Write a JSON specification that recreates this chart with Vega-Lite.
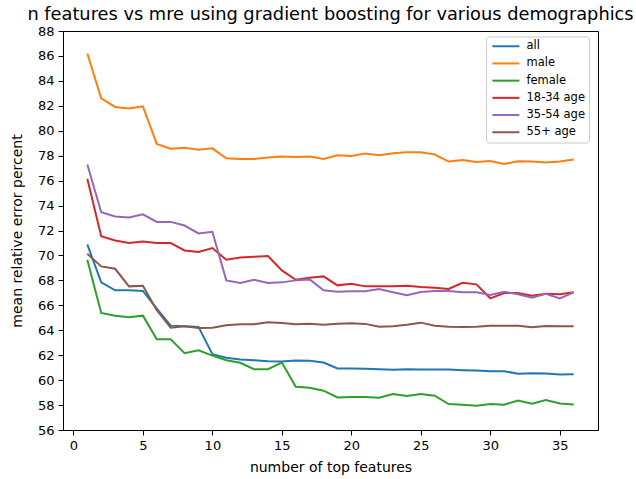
{
  "$schema": "https://vega.github.io/schema/vega-lite/v6.json",
  "width": 535,
  "height": 399,
  "autosize": {"type": "none"},
  "padding": {"left": 63, "top": 31, "right": 38, "bottom": 49},
  "background": "white",
  "title": {
    "text": "n features vs mre using gradient boosting for various demographics",
    "font": "DejaVu Sans",
    "fontSize": 17.8,
    "fontWeight": "normal",
    "color": "black",
    "anchor": "middle",
    "frame": "group",
    "offset": 1.5
  },
  "config": {
    "view": {"stroke": "black", "strokeWidth": 1},
    "axis": {
      "grid": false,
      "domainColor": "black",
      "domainWidth": 1,
      "tickColor": "black",
      "tickSize": 5,
      "tickWidth": 1,
      "labelColor": "black",
      "labelFont": "DejaVu Sans",
      "labelFontSize": 13,
      "labelPadding": 4,
      "titleFont": "DejaVu Sans",
      "titleFontSize": 14,
      "titleFontWeight": "normal",
      "titleColor": "black"
    }
  },
  "data": {
    "values": [
      {"n":1,"series":"all","mre":70.88},{"n":2,"series":"all","mre":67.84},{"n":3,"series":"all","mre":67.2},{"n":4,"series":"all","mre":67.2},{"n":5,"series":"all","mre":67.15},{"n":6,"series":"all","mre":65.73},{"n":7,"series":"all","mre":64.37},{"n":8,"series":"all","mre":64.32},{"n":9,"series":"all","mre":64.27},{"n":10,"series":"all","mre":62.08},{"n":11,"series":"all","mre":61.79},{"n":12,"series":"all","mre":61.65},{"n":13,"series":"all","mre":61.6},{"n":14,"series":"all","mre":61.52},{"n":15,"series":"all","mre":61.49},{"n":16,"series":"all","mre":61.57},{"n":17,"series":"all","mre":61.55},{"n":18,"series":"all","mre":61.41},{"n":19,"series":"all","mre":60.93},{"n":20,"series":"all","mre":60.93},{"n":21,"series":"all","mre":60.91},{"n":22,"series":"all","mre":60.88},{"n":23,"series":"all","mre":60.83},{"n":24,"series":"all","mre":60.88},{"n":25,"series":"all","mre":60.85},{"n":26,"series":"all","mre":60.85},{"n":27,"series":"all","mre":60.85},{"n":28,"series":"all","mre":60.8},{"n":29,"series":"all","mre":60.77},{"n":30,"series":"all","mre":60.72},{"n":31,"series":"all","mre":60.72},{"n":32,"series":"all","mre":60.51},{"n":33,"series":"all","mre":60.56},{"n":34,"series":"all","mre":60.53},{"n":35,"series":"all","mre":60.45},{"n":36,"series":"all","mre":60.48},
      {"n":1,"series":"male","mre":86.19},{"n":2,"series":"male","mre":82.6},{"n":3,"series":"male","mre":81.91},{"n":4,"series":"male","mre":81.78},{"n":5,"series":"male","mre":81.96},{"n":6,"series":"male","mre":78.94},{"n":7,"series":"male","mre":78.56},{"n":8,"series":"male","mre":78.64},{"n":9,"series":"male","mre":78.48},{"n":10,"series":"male","mre":78.59},{"n":11,"series":"male","mre":77.79},{"n":12,"series":"male","mre":77.74},{"n":13,"series":"male","mre":77.74},{"n":14,"series":"male","mre":77.85},{"n":15,"series":"male","mre":77.93},{"n":16,"series":"male","mre":77.9},{"n":17,"series":"male","mre":77.93},{"n":18,"series":"male","mre":77.74},{"n":19,"series":"male","mre":78.03},{"n":20,"series":"male","mre":77.98},{"n":21,"series":"male","mre":78.17},{"n":22,"series":"male","mre":78.03},{"n":23,"series":"male","mre":78.19},{"n":24,"series":"male","mre":78.27},{"n":25,"series":"male","mre":78.27},{"n":26,"series":"male","mre":78.09},{"n":27,"series":"male","mre":77.53},{"n":28,"series":"male","mre":77.66},{"n":29,"series":"male","mre":77.5},{"n":30,"series":"male","mre":77.58},{"n":31,"series":"male","mre":77.34},{"n":32,"series":"male","mre":77.55},{"n":33,"series":"male","mre":77.53},{"n":34,"series":"male","mre":77.45},{"n":35,"series":"male","mre":77.53},{"n":36,"series":"male","mre":77.69},
      {"n":1,"series":"female","mre":69.65},{"n":2,"series":"female","mre":65.39},{"n":3,"series":"female","mre":65.17},{"n":4,"series":"female","mre":65.04},{"n":5,"series":"female","mre":65.17},{"n":6,"series":"female","mre":63.28},{"n":7,"series":"female","mre":63.28},{"n":8,"series":"female","mre":62.16},{"n":9,"series":"female","mre":62.4},{"n":10,"series":"female","mre":61.97},{"n":11,"series":"female","mre":61.6},{"n":12,"series":"female","mre":61.39},{"n":13,"series":"female","mre":60.88},{"n":14,"series":"female","mre":60.88},{"n":15,"series":"female","mre":61.41},{"n":16,"series":"female","mre":59.47},{"n":17,"series":"female","mre":59.39},{"n":18,"series":"female","mre":59.15},{"n":19,"series":"female","mre":58.61},{"n":20,"series":"female","mre":58.64},{"n":21,"series":"female","mre":58.64},{"n":22,"series":"female","mre":58.59},{"n":23,"series":"female","mre":58.88},{"n":24,"series":"female","mre":58.72},{"n":25,"series":"female","mre":58.88},{"n":26,"series":"female","mre":58.75},{"n":27,"series":"female","mre":58.08},{"n":28,"series":"female","mre":58.03},{"n":29,"series":"female","mre":57.95},{"n":30,"series":"female","mre":58.08},{"n":31,"series":"female","mre":58.03},{"n":32,"series":"female","mre":58.37},{"n":33,"series":"female","mre":58.11},{"n":34,"series":"female","mre":58.4},{"n":35,"series":"female","mre":58.13},{"n":36,"series":"female","mre":58.05},
      {"n":1,"series":"18-34 age","mre":76.15},{"n":2,"series":"18-34 age","mre":71.55},{"n":3,"series":"18-34 age","mre":71.2},{"n":4,"series":"18-34 age","mre":70.99},{"n":5,"series":"18-34 age","mre":71.12},{"n":6,"series":"18-34 age","mre":70.99},{"n":7,"series":"18-34 age","mre":70.99},{"n":8,"series":"18-34 age","mre":70.4},{"n":9,"series":"18-34 age","mre":70.27},{"n":10,"series":"18-34 age","mre":70.59},{"n":11,"series":"18-34 age","mre":69.65},{"n":12,"series":"18-34 age","mre":69.84},{"n":13,"series":"18-34 age","mre":69.89},{"n":14,"series":"18-34 age","mre":69.95},{"n":15,"series":"18-34 age","mre":68.8},{"n":16,"series":"18-34 age","mre":68.05},{"n":17,"series":"18-34 age","mre":68.21},{"n":18,"series":"18-34 age","mre":68.32},{"n":19,"series":"18-34 age","mre":67.6},{"n":20,"series":"18-34 age","mre":67.73},{"n":21,"series":"18-34 age","mre":67.52},{"n":22,"series":"18-34 age","mre":67.52},{"n":23,"series":"18-34 age","mre":67.52},{"n":24,"series":"18-34 age","mre":67.57},{"n":25,"series":"18-34 age","mre":67.47},{"n":26,"series":"18-34 age","mre":67.41},{"n":27,"series":"18-34 age","mre":67.31},{"n":28,"series":"18-34 age","mre":67.81},{"n":29,"series":"18-34 age","mre":67.68},{"n":30,"series":"18-34 age","mre":66.56},{"n":31,"series":"18-34 age","mre":66.99},{"n":32,"series":"18-34 age","mre":66.99},{"n":33,"series":"18-34 age","mre":66.77},{"n":34,"series":"18-34 age","mre":66.93},{"n":35,"series":"18-34 age","mre":66.88},{"n":36,"series":"18-34 age","mre":67.04},
      {"n":1,"series":"35-54 age","mre":77.29},{"n":2,"series":"35-54 age","mre":73.46},{"n":3,"series":"35-54 age","mre":73.12},{"n":4,"series":"35-54 age","mre":73.04},{"n":5,"series":"35-54 age","mre":73.3},{"n":6,"series":"35-54 age","mre":72.69},{"n":7,"series":"35-54 age","mre":72.69},{"n":8,"series":"35-54 age","mre":72.4},{"n":9,"series":"35-54 age","mre":71.76},{"n":10,"series":"35-54 age","mre":71.9},{"n":11,"series":"35-54 age","mre":68.0},{"n":12,"series":"35-54 age","mre":67.79},{"n":13,"series":"35-54 age","mre":68.05},{"n":14,"series":"35-54 age","mre":67.79},{"n":15,"series":"35-54 age","mre":67.84},{"n":16,"series":"35-54 age","mre":68.0},{"n":17,"series":"35-54 age","mre":68.08},{"n":18,"series":"35-54 age","mre":67.2},{"n":19,"series":"35-54 age","mre":67.09},{"n":20,"series":"35-54 age","mre":67.12},{"n":21,"series":"35-54 age","mre":67.12},{"n":22,"series":"35-54 age","mre":67.31},{"n":23,"series":"35-54 age","mre":67.04},{"n":24,"series":"35-54 age","mre":66.8},{"n":25,"series":"35-54 age","mre":67.07},{"n":26,"series":"35-54 age","mre":67.15},{"n":27,"series":"35-54 age","mre":67.15},{"n":28,"series":"35-54 age","mre":67.04},{"n":29,"series":"35-54 age","mre":67.04},{"n":30,"series":"35-54 age","mre":66.83},{"n":31,"series":"35-54 age","mre":67.09},{"n":32,"series":"35-54 age","mre":66.88},{"n":33,"series":"35-54 age","mre":66.61},{"n":34,"series":"35-54 age","mre":66.93},{"n":35,"series":"35-54 age","mre":66.56},{"n":36,"series":"35-54 age","mre":67.04},
      {"n":1,"series":"55+ age","mre":70.13},{"n":2,"series":"55+ age","mre":69.12},{"n":3,"series":"55+ age","mre":68.93},{"n":4,"series":"55+ age","mre":67.52},{"n":5,"series":"55+ age","mre":67.57},{"n":6,"series":"55+ age","mre":65.6},{"n":7,"series":"55+ age","mre":64.21},{"n":8,"series":"55+ age","mre":64.32},{"n":9,"series":"55+ age","mre":64.19},{"n":10,"series":"55+ age","mre":64.21},{"n":11,"series":"55+ age","mre":64.4},{"n":12,"series":"55+ age","mre":64.48},{"n":13,"series":"55+ age","mre":64.48},{"n":14,"series":"55+ age","mre":64.64},{"n":15,"series":"55+ age","mre":64.59},{"n":16,"series":"55+ age","mre":64.48},{"n":17,"series":"55+ age","mre":64.53},{"n":18,"series":"55+ age","mre":64.45},{"n":19,"series":"55+ age","mre":64.53},{"n":20,"series":"55+ age","mre":64.56},{"n":21,"series":"55+ age","mre":64.51},{"n":22,"series":"55+ age","mre":64.29},{"n":23,"series":"55+ age","mre":64.32},{"n":24,"series":"55+ age","mre":64.45},{"n":25,"series":"55+ age","mre":64.61},{"n":26,"series":"55+ age","mre":64.37},{"n":27,"series":"55+ age","mre":64.29},{"n":28,"series":"55+ age","mre":64.27},{"n":29,"series":"55+ age","mre":64.29},{"n":30,"series":"55+ age","mre":64.37},{"n":31,"series":"55+ age","mre":64.37},{"n":32,"series":"55+ age","mre":64.37},{"n":33,"series":"55+ age","mre":64.24},{"n":34,"series":"55+ age","mre":64.35},{"n":35,"series":"55+ age","mre":64.32},{"n":36,"series":"55+ age","mre":64.32}
    ]
  },
  "mark": {"type": "line", "strokeWidth": 2, "clip": true},
  "encoding": {
    "x": {
      "field": "n",
      "type": "quantitative",
      "scale": {"domain": [-0.75, 37.75], "nice": false, "zero": false},
      "axis": {"title": "number of top features", "values": [0, 5, 10, 15, 20, 25, 30, 35], "titlePadding": 8}
    },
    "y": {
      "field": "mre",
      "type": "quantitative",
      "scale": {"domain": [56, 88], "nice": false, "zero": false},
      "axis": {"title": "mean relative error percent", "values": [56,58,60,62,64,66,68,70,72,74,76,78,80,82,84,86,88], "titlePadding": 13}
    },
    "color": {
      "field": "series",
      "type": "nominal",
      "scale": {
        "domain": ["all", "male", "female", "18-34 age", "35-54 age", "55+ age"],
        "range": ["#1f77b4", "#ff7f0e", "#2ca02c", "#d62728", "#9467bd", "#8c564b"]
      },
      "legend": {
        "title": null,
        "orient": "none",
        "legendX": 423,
        "legendY": 5.5,
        "symbolType": "M-1,0H7",
        "symbolSize": 45.6,
        "symbolStrokeWidth": 2,
        "labelOffset": 25,
        "labelFont": "DejaVu Sans",
        "labelFontSize": 11.5,
        "labelColor": "black",
        "rowPadding": 4.2,
        "padding": 4,
        "fillColor": "rgba(255,255,255,0.8)",
        "strokeColor": "#cccccc",
        "cornerRadius": 3
      }
    }
  }
}
